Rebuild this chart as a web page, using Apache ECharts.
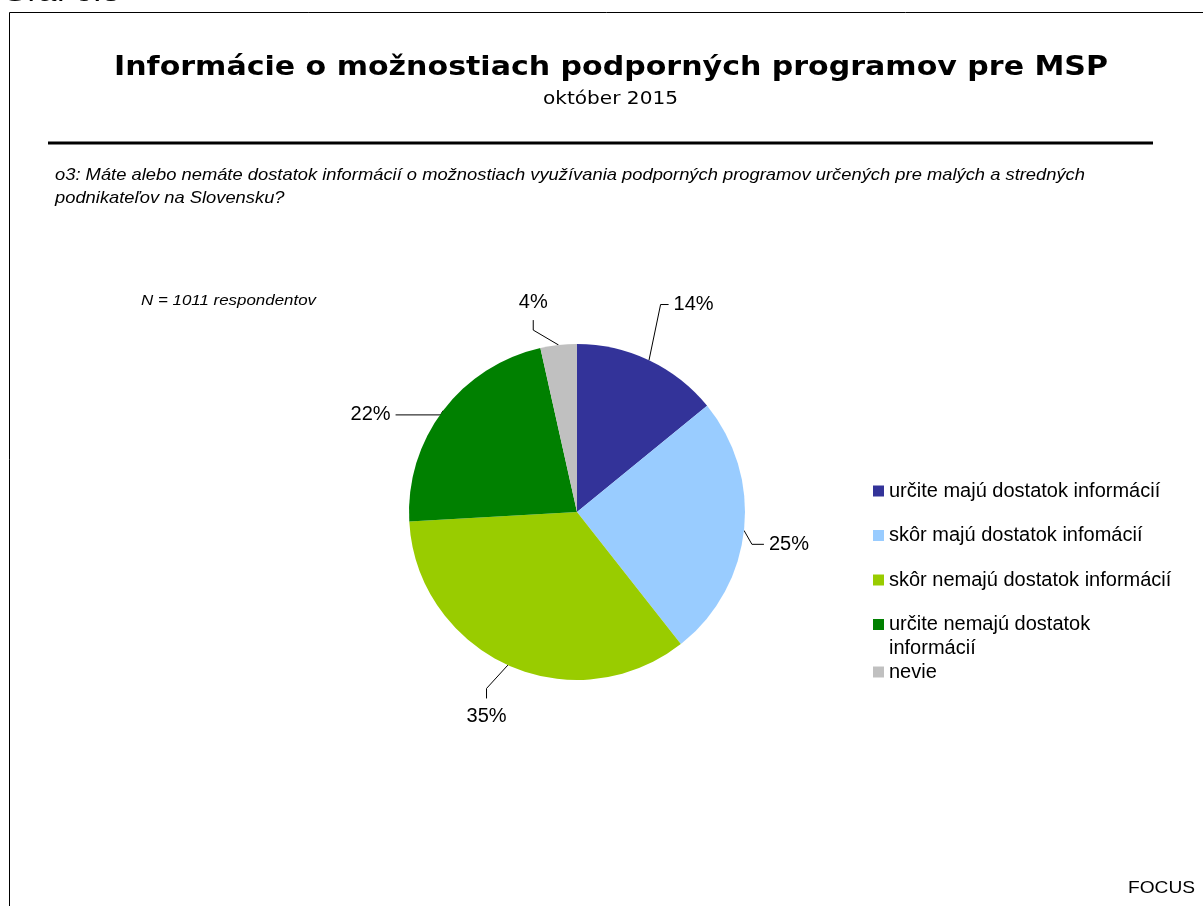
<!DOCTYPE html>
<html>
<head>
<meta charset="utf-8">
<script src="https://cdn.jsdelivr.net/npm/echarts@6/dist/echarts.min.js"></script>
<style>
  html, body { margin: 0; padding: 0; background: #fff; }
  #chart { width: 1203px; height: 906px; }
</style>
</head>
<body>
<div id="chart"></div>
<script>
// data
const categories = [
  'určite majú dostatok informácií',
  'skôr majú dostatok infomácií',
  'skôr nemajú dostatok informácií',
  'určite nemajú dostatok informácií',
  'nevie'
];
const values = [14.1, 25.3, 34.7, 22.4, 3.5];
const shownLabels = ['14%', '25%', '35%', '22%', '4%'];
const colors = ['#333399', '#99CCFF', '#99CC00', '#008000', '#C0C0C0'];

// label placement tweaks (style only)
const lineLen = [
  { length: 55, length2: 6 },
  { length: 8, length2: 12 },
  { length: 30, length2: 1 },
  { length: 3, length2: 45 },
  { length: 12, length2: 1 }
];
const labelAdjust = [
  { mode: 'side', bend: [-12, -6], sx: -10 },
  { mode: 'side', bend: [0, 13], sx: 0 },
  { mode: 'below', bend: [-9, -4], tick: 10, gap: 8 },
  { mode: 'side', bend: [0, 6], sx: 0 },
  { mode: 'above', bend: [-24, -3], tick: 10, gap: 8 }
];

const chart = echarts.init(document.getElementById('chart'));

// text stretched to the width it has in the picture
const ctx = document.createElement('canvas').getContext('2d');
function scaleFor(text, font, width) {
  ctx.font = font;
  return width / ctx.measureText(text).width;
}
function wideText(text, font, x, y, sx) {
  return { type: 'text', x: x, y: y, scaleX: sx, silent: true,
    style: { text: text, font: font, fill: '#000', verticalAlign: 'middle', align: 'left' } };
}

const titleFont = 'bold 26px "DejaVu Sans"';
const titleText = 'Informácie o možnostiach podporných programov pre MSP';
const subFont = '18px "DejaVu Sans"';
const subText = 'október 2015';
const qFont = 'italic 17px "Liberation Sans"';
const q1 = 'o3: Máte alebo nemáte dostatok informácií o možnostiach využívania podporných programov určených pre malých a stredných';
const q2 = 'podnikateľov na Slovensku?';
const nFont = 'italic 14px "Liberation Sans"';
const nText = 'N = 1011 respondentov';
const qScale = scaleFor(q1, qFont, 1030);

const option = {
  animation: false,
  backgroundColor: '#fff',
  graphic: [
    { type: 'rect', shape: { x: 9.5, y: 12.5, width: 1300, height: 1000 }, style: { fill: 'none', stroke: '#000', lineWidth: 1 } },
    wideText('Graf 6.3', '26px "Liberation Sans"', 2, -6, scaleFor('Graf 6.3', '26px "Liberation Sans"', 118)),
    wideText(titleText, titleFont, 114, 68, scaleFor(titleText, titleFont, 994)),
    wideText(subText, subFont, 543, 99, scaleFor(subText, subFont, 135)),
    { type: 'line', shape: { x1: 48, y1: 143, x2: 1153, y2: 143 }, style: { stroke: '#000', lineWidth: 3 } },
    wideText(q1, qFont, 55, 175, qScale),
    wideText(q2, qFont, 55, 198, qScale),
    wideText(nText, nFont, 141, 301, scaleFor(nText, nFont, 175)),
    wideText('FOCUS', '17px "Liberation Sans"', 1128, 888, scaleFor('FOCUS', '17px "Liberation Sans"', 67)),
    { type: 'text', x: 889, y: 648, silent: true,
      style: { text: 'informácií', font: '20px "Liberation Sans"', fill: '#000', verticalAlign: 'middle' } }
  ],
  legend: [
    {
      orient: 'vertical',
      left: 873,
      top: 480,
      padding: 0,
      itemWidth: 11,
      itemHeight: 11,
      itemGap: 22.5,
      icon: 'rect',
      data: categories.slice(0, 4),
      formatter: function (name) {
        return name === categories[3] ? 'určite nemajú dostatok' : name;
      },
      textStyle: { fontFamily: 'Liberation Sans', fontSize: 20, color: '#000', lineHeight: 22 }
    },
    {
      orient: 'vertical',
      left: 873,
      top: 661,
      padding: 0,
      itemWidth: 11,
      itemHeight: 11,
      icon: 'rect',
      data: categories.slice(4),
      textStyle: { fontFamily: 'Liberation Sans', fontSize: 20, color: '#000', lineHeight: 22 }
    }
  ],
  series: [
    {
      type: 'pie',
      center: [577, 512],
      radius: 168,
      startAngle: 90,
      clockwise: true,
      color: colors,
      avoidLabelOverlap: false,
      data: categories.map((name, i) => ({
        name: name,
        value: values[i],
        labelLine: lineLen[i]
      })),
      label: {
        show: true,
        position: 'outside',
        formatter: function (p) { return shownLabels[p.dataIndex]; },
        fontFamily: 'Liberation Sans',
        fontSize: 20,
        color: '#000'
      },
      labelLine: {
        show: true,
        lineStyle: { color: '#000', width: 1 }
      },
      labelLayout: function (params) {
        const a = labelAdjust[params.dataIndex];
        const pts = params.labelLinePoints;
        const r = params.labelRect;
        if (!pts) return {};
        const p1 = [pts[1][0] + a.bend[0], pts[1][1] + a.bend[1]];
        if (a.mode === 'side') {
          const p2 = [pts[2][0] + a.sx, p1[1]];
          return { dx: a.sx, dy: p1[1] - pts[1][1], labelLinePoints: [pts[0], p1, p2] };
        }
        const dir = a.mode === 'below' ? 1 : -1;
        const p2 = [p1[0], p1[1] + dir * a.tick];
        const cx = r.x + r.width / 2;
        const dx = p2[0] - cx;
        const dy = a.mode === 'below' ? (p2[1] + a.gap) - r.y : (p2[1] - a.gap) - (r.y + r.height);
        return { dx: dx, dy: dy, labelLinePoints: [pts[0], p1, p2] };
      },
      emphasis: { disabled: true }
    }
  ]
};

chart.setOption(option);
</script>
</body>
</html>
